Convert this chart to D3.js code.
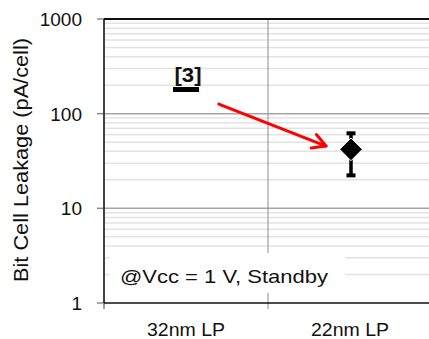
<!DOCTYPE html>
<html>
<head>
<meta charset="utf-8">
<script src="https://cdn.jsdelivr.net/npm/d3@7/dist/d3.min.js"></script>
<style>
  html, body { margin: 0; padding: 0; background: #fff; }
  svg { display: block; font-family: "Liberation Sans", Arial, sans-serif; }
</style>
</head>
<body>
<svg id="chart" width="429" height="339"></svg>
<script>
// Process nodes and measured standby bit-cell leakage (pA/cell)
const categories = ["32nm LP", "22nm LP"];
const referenceValue = [180];            // 32nm LP, reference [3]
const measuredValue = [42];              // 22nm LP, mean
const measuredRange = [22.3, 62];        // 22nm LP, min / max
const yTicks = [1, 10, 100, 1000];
const yTickLabels = ["1", "10", "100", "1000"];
const referenceLabel = "[3]";
const conditionLabel = "@Vcc = 1 V, Standby";
const yTitle = "Bit Cell Leakage (pA/cell)";
// trend arrow, in data terms: [category, offset within band, value]
const arrowFrom = ["32nm LP", 0.2, 126];
const arrowTo = ["22nm LP", -0.146, 45.5];

const svg = d3.select("#chart");
const M = { left: 104, top: 19, right: 432, bottom: 303 };

const x = d3.scaleBand().domain(categories).range([M.left, M.right]).padding(0);
const y = d3.scaleLog().domain([1, 1000]).range([M.bottom, M.top]);
const cx = c => x(c) + x.bandwidth() / 2;

// minor gridlines (2..9 of every decade)
const minor = [];
for (let d = 1; d < 1000; d *= 10) for (let k = 2; k <= 9; k++) minor.push(d * k);
svg.append("g").selectAll("line").data(minor).join("line")
  .attr("x1", M.left).attr("x2", M.right)
  .attr("y1", d => y(d)).attr("y2", d => y(d))
  .attr("stroke", "#e3e3e3").attr("stroke-width", 1.5);

// major gridlines
svg.append("g").selectAll("line").data([10, 100]).join("line")
  .attr("x1", M.left).attr("x2", M.right)
  .attr("y1", d => y(d)).attr("y2", d => y(d))
  .attr("stroke", "#a6a6a6").attr("stroke-width", 1.5);

// category divider
svg.append("line")
  .attr("x1", x(categories[1])).attr("x2", x(categories[1]))
  .attr("y1", M.top).attr("y2", M.bottom + 6)
  .attr("stroke", "#8c8c8c").attr("stroke-width", 1);

// condition text box (opaque, sits over the grid)
svg.append("rect")
  .attr("x", 110).attr("y", 253).attr("width", 235).attr("height", 40)
  .attr("fill", "#fff");
svg.append("text")
  .attr("x", 120).attr("y", 283)
  .attr("font-size", 19).attr("fill", "#111")
  .attr("textLength", 208).attr("lengthAdjust", "spacingAndGlyphs")
  .text(conditionLabel);

// y axis: ticks and labels
const yAxis = svg.append("g");
yAxis.selectAll("line").data(yTicks).join("line")
  .attr("x1", M.left - 7).attr("x2", M.left)
  .attr("y1", d => y(d)).attr("y2", d => y(d))
  .attr("stroke", "#8c8c8c").attr("stroke-width", 1.5);
yAxis.selectAll("text").data(yTicks).join("text")
  .attr("x", 82).attr("y", d => y(d) + 7)
  .attr("text-anchor", "end").attr("font-size", 19).attr("fill", "#111")
  .text((d, i) => yTickLabels[i]);

// frame
svg.append("line").attr("x1", M.left).attr("x2", M.left)
  .attr("y1", M.top).attr("y2", M.bottom + 6)
  .attr("stroke", "#7f7f7f").attr("stroke-width", 1.5);
svg.append("line").attr("x1", M.left).attr("x2", M.left)
  .attr("y1", M.top).attr("y2", M.bottom)
  .attr("stroke", "#222").attr("stroke-width", 1.5);
svg.append("line").attr("x1", M.left).attr("x2", M.right)
  .attr("y1", M.top).attr("y2", M.top)
  .attr("stroke", "#111").attr("stroke-width", 2);
svg.append("line").attr("x1", M.left).attr("x2", M.right)
  .attr("y1", M.bottom).attr("y2", M.bottom)
  .attr("stroke", "#111").attr("stroke-width", 1.5);

// x category labels
svg.append("g").selectAll("text").data(categories).join("text")
  .attr("x", d => cx(d)).attr("y", 336)
  .attr("text-anchor", "middle").attr("font-size", 19).attr("fill", "#111")
  .attr("textLength", 78).attr("lengthAdjust", "spacingAndGlyphs")
  .text(d => d);

// y title
svg.append("text")
  .attr("transform", `translate(28,${(38 + 282) / 2}) rotate(-90)`)
  .attr("text-anchor", "middle").attr("font-size", 20).attr("fill", "#111")
  .attr("textLength", 244).attr("lengthAdjust", "spacingAndGlyphs")
  .text(yTitle);

// 32nm reference: dash marker
const x0 = cx(categories[0]);
svg.append("rect")
  .attr("x", x0 - 13).attr("y", y(referenceValue[0]) - 2.5)
  .attr("width", 26).attr("height", 5).attr("fill", "#000");
svg.append("text")
  .attr("x", x0 + 2).attr("y", y(referenceValue[0]) - 8)
  .attr("text-anchor", "middle").attr("font-size", 20).attr("font-weight", "bold")
  .attr("fill", "#111").attr("textLength", 27).attr("lengthAdjust", "spacingAndGlyphs")
  .text(referenceLabel);

// 22nm measured: error bar + diamond
const x1 = cx(categories[1]) + 1;
svg.append("line")
  .attr("x1", x1).attr("x2", x1)
  .attr("y1", y(measuredRange[0])).attr("y2", y(measuredRange[1]))
  .attr("stroke", "#000").attr("stroke-width", 3.5);
svg.append("g").selectAll("rect").data(measuredRange).join("rect")
  .attr("x", x1 - 4.5).attr("y", d => y(d) - 2)
  .attr("width", 9).attr("height", 4).attr("fill", "#000");
svg.append("path")
  .attr("d", d3.symbol(d3.symbolDiamond2, 330)())
  .attr("transform", `translate(${x1},${y(measuredValue[0])})`)
  .attr("fill", "#000").attr("stroke", "#fff").attr("stroke-width", 1);

// trend arrow
const ax = a => x(a[0]) + x.bandwidth() * (0.5 + a[1]);
const p0 = [ax(arrowFrom), y(arrowFrom[2])];
const p1 = [ax(arrowTo), y(arrowTo[2])];
const ang = Math.atan2(p1[1] - p0[1], p1[0] - p0[0]);
const head = 15, spread = 0.5;
const h1 = [p1[0] - head * Math.cos(ang - spread), p1[1] - head * Math.sin(ang - spread)];
const h2 = [p1[0] - head * Math.cos(ang + spread), p1[1] - head * Math.sin(ang + spread)];
const arrow = svg.append("g").attr("stroke", "#ff0000").attr("stroke-width", 3)
  .attr("fill", "none").attr("stroke-linecap", "round").attr("stroke-linejoin", "round");
arrow.append("line").attr("x1", p0[0]).attr("y1", p0[1]).attr("x2", p1[0]).attr("y2", p1[1]);
arrow.append("path").attr("d", d3.line()([h1, p1, h2]));
</script>
</body>
</html>
